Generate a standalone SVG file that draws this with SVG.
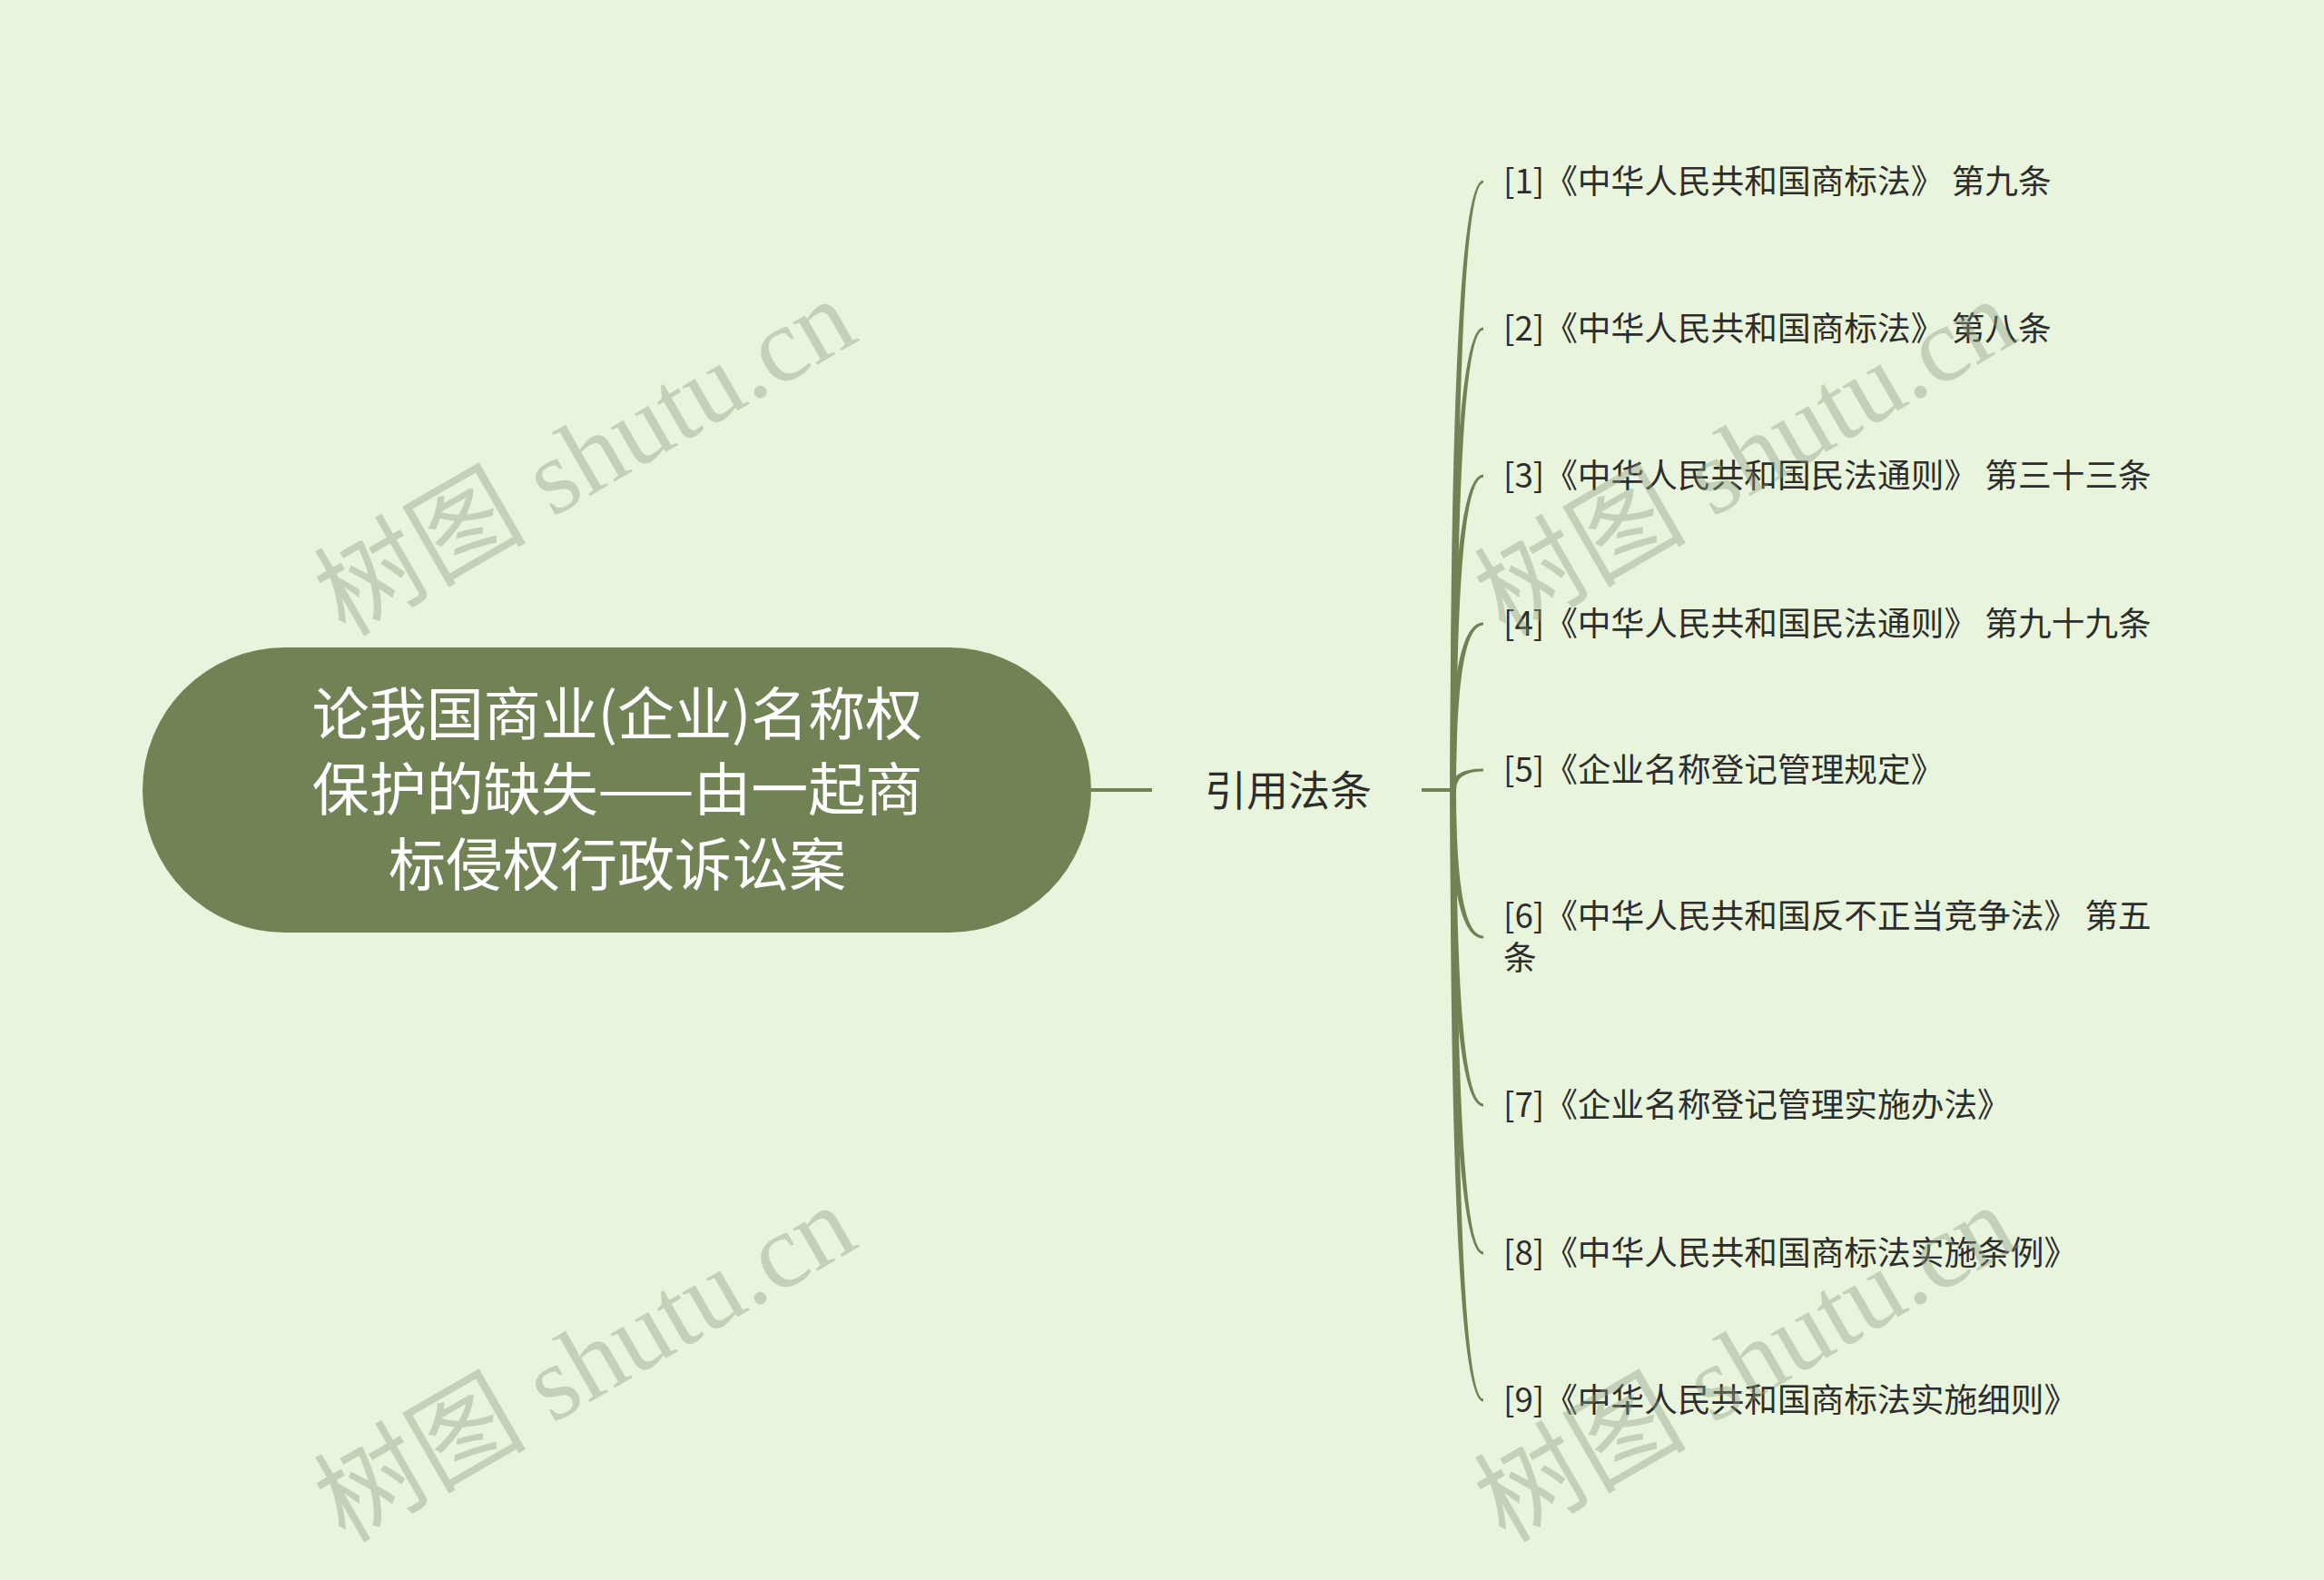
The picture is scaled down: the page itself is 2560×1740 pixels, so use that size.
<svg xmlns="http://www.w3.org/2000/svg" width="2560" height="1740" viewBox="0 0 2560 1740">
<style>
.bg{fill:#e8f5dc}
.root{fill:#718255}
.rt{font-family:"Noto Sans CJK SC","Noto Sans",sans-serif;font-size:63px;fill:#ffffff;text-anchor:middle}
.mt{font-family:"Noto Sans CJK SC","Noto Sans",sans-serif;font-size:46px;fill:#2d2d2d;text-anchor:middle}
.ct{font-family:"Noto Sans CJK SC","Noto Sans",sans-serif;font-size:36.7px;fill:#2d2d2d}
.ln{stroke:#718255;stroke-width:4;fill:none}
.br{fill:#718255}
.wm{font-family:"Liberation Serif","Noto Sans CJK SC",serif;font-size:117px;fill:#8a9a80;fill-opacity:0.4}
</style>
<rect class="bg" x="0" y="0" width="2560" height="1740"/>
<g id="connectors">
<line class="ln" x1="1202" y1="870" x2="1269" y2="870"/>
<line class="ln" x1="1566" y1="870" x2="1602" y2="870"/>
<path class="br" d="M1597.5 870 Q1597.5 198.5 1634 198.5 L1634 201.5 Q1604 201.5 1604 870 Z"/>
<path class="br" d="M1597.5 870 Q1597.5 360.5 1634 360.5 L1634 363.5 Q1604 363.5 1604 870 Z"/>
<path class="br" d="M1597.5 870 Q1597.5 522.5 1634 522.5 L1634 525.5 Q1604 525.5 1604 870 Z"/>
<path class="br" d="M1597.5 870 Q1597.5 685.5 1634 685.5 L1634 688.5 Q1604 688.5 1604 870 Z"/>
<path class="br" d="M1597.5 870 Q1597.5 846.5 1634 846.5 L1634 849.5 Q1604 849.5 1604 870 Z"/>
<path class="br" d="M1597.5 870 Q1597.5 1033.5 1634 1033.5 L1634 1030.5 Q1604 1030.5 1604 870 Z"/>
<path class="br" d="M1597.5 870 Q1597.5 1218.5 1634 1218.5 L1634 1215.5 Q1604 1215.5 1604 870 Z"/>
<path class="br" d="M1597.5 870 Q1597.5 1381.5 1634 1381.5 L1634 1378.5 Q1604 1378.5 1604 870 Z"/>
<path class="br" d="M1597.5 870 Q1597.5 1543.5 1634 1543.5 L1634 1540.5 Q1604 1540.5 1604 870 Z"/>
</g>
<g id="root">
<rect class="root" x="157" y="713" width="1045" height="314" rx="157" ry="157"/>
<text class="rt" x="680" y="809">论我国商业(企业)名称权</text>
<text class="rt" x="680" y="892">保护的缺失——由一起商</text>
<text class="rt" x="680" y="975">标侵权行政诉讼案</text>
</g>
<g id="main">
<text class="mt" x="1419" y="887">引用法条</text>
</g>
<g id="c1"><text class="ct" x="1656" y="213">[1]《中华人民共和国商标法》 第九条</text></g>
<g id="c2"><text class="ct" x="1656" y="375">[2]《中华人民共和国商标法》 第八条</text></g>
<g id="c3"><text class="ct" x="1656" y="537">[3]《中华人民共和国民法通则》 第三十三条</text></g>
<g id="c4"><text class="ct" x="1656" y="700">[4]《中华人民共和国民法通则》 第九十九条</text></g>
<g id="c5"><text class="ct" x="1656" y="861">[5]《企业名称登记管理规定》</text></g>
<g id="c6"><text class="ct" x="1656" y="1022">[6]《中华人民共和国反不正当竞争法》 第五<tspan x="1656" y="1068">条</tspan></text></g>
<g id="c7"><text class="ct" x="1656" y="1230">[7]《企业名称登记管理实施办法》</text></g>
<g id="c8"><text class="ct" x="1656" y="1393">[8]《中华人民共和国商标法实施条例》</text></g>
<g id="c9"><text class="ct" x="1656" y="1555">[9]《中华人民共和国商标法实施细则》</text></g>
<g id="watermarks">
<text class="wm" transform="translate(380 702) rotate(-30)">树图 shutu.cn</text>
<text class="wm" transform="translate(380 1700) rotate(-30)">树图 shutu.cn</text>
<text class="wm" transform="translate(1658 702) rotate(-30)">树图 shutu.cn</text>
<text class="wm" transform="translate(1658 1700) rotate(-30)">树图 shutu.cn</text>
</g>
</svg>
